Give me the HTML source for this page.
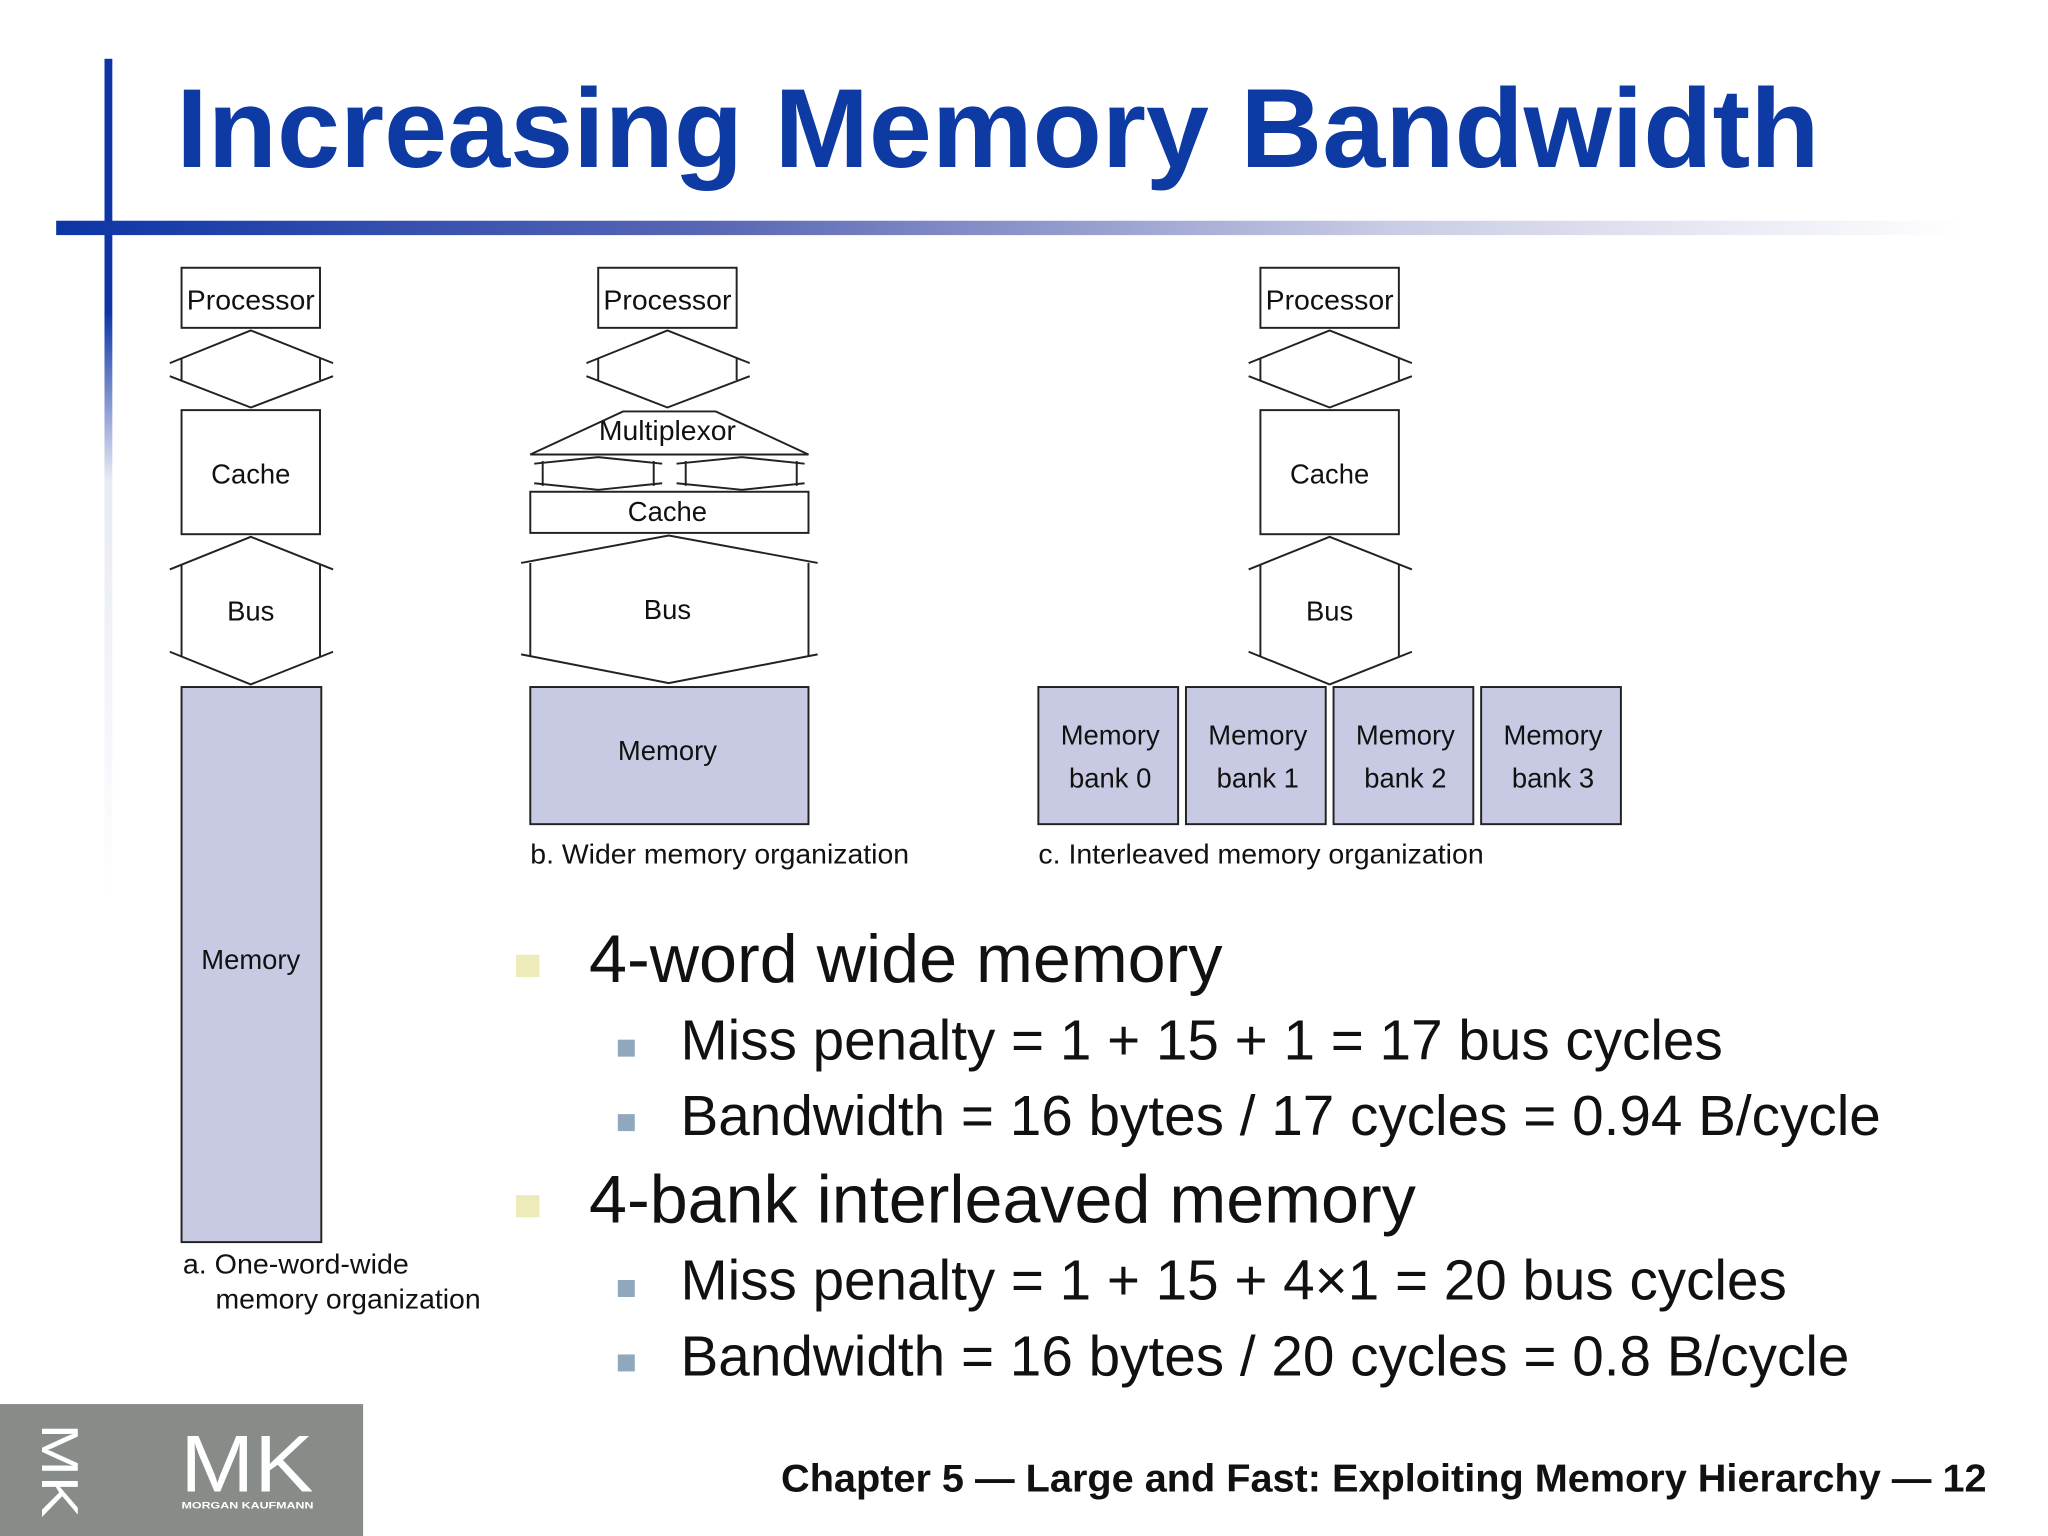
<!DOCTYPE html>
<html><head><meta charset="utf-8"><style>
html,body{margin:0;padding:0;background:#fff;}
svg{display:block;}
text{font-family:"Liberation Sans",Arial,sans-serif;}
</style></head><body>
<svg width="2048" height="1536" viewBox="0 0 1568 1176" xmlns="http://www.w3.org/2000/svg">
<defs>
<linearGradient id="hg" x1="0" x2="1" y1="0" y2="0">
<stop offset="0" stop-color="#0d35a6"/><stop offset="0.35" stop-color="#5a68b5"/><stop offset="0.7" stop-color="#c9cce4"/><stop offset="1" stop-color="#ffffff"/>
</linearGradient>
<linearGradient id="vg" x1="0" x2="0" y1="0" y2="1">
<stop offset="0" stop-color="#0d35a6"/><stop offset="0.3" stop-color="#0d35a6"/><stop offset="0.5" stop-color="#e8eaf4"/><stop offset="1" stop-color="#ffffff"/>
</linearGradient>
</defs>
<rect x="0" y="0" width="1568" height="1176" fill="#fff"/>
<rect x="80" y="45" width="6" height="645" fill="url(#vg)"/>
<rect x="43" y="169" width="1460" height="11" fill="url(#hg)"/>
<text x="135" y="128" font-size="86" font-weight="bold" fill="#0d3ba3" textLength="1258" lengthAdjust="spacingAndGlyphs">Increasing Memory Bandwidth</text>

<g fill="none" stroke="#222" stroke-width="1.5">
<rect x="139" y="205" width="106" height="46" fill="#fff"/>
<polyline points="130,278 192,253 255,278"/><polyline points="130,288 192,312 255,288"/>
<line x1="139" y1="274" x2="139" y2="291"/><line x1="245" y1="274" x2="245" y2="291"/>
<rect x="139" y="314" width="106" height="95"/>
<polyline points="130,436 192,411 255,436"/><polyline points="130,499 192,524 255,499"/>
<line x1="139" y1="432" x2="139" y2="503"/><line x1="245" y1="432" x2="245" y2="503"/>
<rect x="139" y="526" width="107" height="425" fill="#c8cae4"/>
<rect x="458" y="205" width="106" height="46"/>
<polyline points="449,278 511,253 574,278"/><polyline points="449,288 511,312 574,288"/>
<line x1="458" y1="274" x2="458" y2="291"/><line x1="564" y1="274" x2="564" y2="291"/>
<polygon points="477,315 548,315 619,348 406,348"/>
<polyline points="409,355 458,350 507,355"/><polyline points="409,370 458,375 507,370"/>
<line x1="415.5" y1="353" x2="415.5" y2="372"/><line x1="500.5" y1="353" x2="500.5" y2="372"/>
<polyline points="518,355 568,350 616,355"/><polyline points="518,370 568,375 616,370"/>
<line x1="525" y1="353" x2="525" y2="372"/><line x1="610" y1="353" x2="610" y2="372"/>
<rect x="406" y="376.5" width="213" height="31.5"/>
<polyline points="399,431 512,410 626,431"/><polyline points="399,501 512,523 626,501"/>
<line x1="406" y1="431" x2="406" y2="502"/><line x1="619" y1="431" x2="619" y2="502"/>
<rect x="406" y="526" width="213" height="105" fill="#c8cae4"/>
<rect x="965" y="205" width="106" height="46"/>
<polyline points="956,278 1018,253 1081,278"/><polyline points="956,288 1018,312 1081,288"/>
<line x1="965" y1="274" x2="965" y2="291"/><line x1="1071" y1="274" x2="1071" y2="291"/>
<rect x="965" y="314" width="106" height="95"/>
<polyline points="956,436 1018,411 1081,436"/><polyline points="956,499 1018,524 1081,499"/>
<line x1="965" y1="432" x2="965" y2="503"/><line x1="1071" y1="432" x2="1071" y2="503"/>
<rect x="795" y="526" width="107" height="105" fill="#c8cae4"/>
<rect x="908" y="526" width="107" height="105" fill="#c8cae4"/>
<rect x="1021" y="526" width="107" height="105" fill="#c8cae4"/>
<rect x="1134" y="526" width="107" height="105" fill="#c8cae4"/>
</g>

<g font-size="21" fill="#111" text-anchor="middle">
<text x="192" y="237" textLength="98" lengthAdjust="spacingAndGlyphs">Processor</text>
<text x="192" y="370">Cache</text>
<text x="192" y="475">Bus</text>
<text x="192" y="742">Memory</text>
<text x="511" y="237" textLength="98" lengthAdjust="spacingAndGlyphs">Processor</text>
<text x="511" y="337" textLength="105" lengthAdjust="spacingAndGlyphs">Multiplexor</text>
<text x="511" y="399">Cache</text>
<text x="511" y="474">Bus</text>
<text x="511" y="582">Memory</text>
<text x="1018" y="237" textLength="98" lengthAdjust="spacingAndGlyphs">Processor</text>
<text x="1018" y="370">Cache</text>
<text x="1018" y="475">Bus</text>
<text x="850" y="570">Memory</text><text x="850" y="603">bank 0</text>
<text x="963" y="570">Memory</text><text x="963" y="603">bank 1</text>
<text x="1076" y="570">Memory</text><text x="1076" y="603">bank 2</text>
<text x="1189" y="570">Memory</text><text x="1189" y="603">bank 3</text>
</g>
<g font-size="21" fill="#111">
<text x="140" y="975" textLength="173" lengthAdjust="spacingAndGlyphs">a. One-word-wide</text>
<text x="165" y="1002" textLength="203" lengthAdjust="spacingAndGlyphs">memory organization</text>
<text x="406" y="661" textLength="290" lengthAdjust="spacingAndGlyphs">b. Wider memory organization</text>
<text x="795" y="661" textLength="341" lengthAdjust="spacingAndGlyphs">c. Interleaved memory organization</text>
</g>

<rect x="395" y="731" width="18" height="17" fill="#ecebb9"/>
<rect x="395" y="915" width="18" height="17" fill="#ecebb9"/>
<rect x="473" y="796" width="13" height="13" fill="#8fa8bd"/>
<rect x="473" y="853" width="13" height="13" fill="#8fa8bd"/>
<rect x="473" y="980" width="13" height="13" fill="#8fa8bd"/>
<rect x="473" y="1037" width="13" height="13" fill="#8fa8bd"/>
<g fill="#111">
<text x="451" y="752" font-size="52" textLength="485" lengthAdjust="spacingAndGlyphs">4-word wide memory</text>
<text x="521" y="811" font-size="43" textLength="798" lengthAdjust="spacingAndGlyphs">Miss penalty = 1 + 15 + 1 = 17 bus cycles</text>
<text x="521" y="869" font-size="43" textLength="919" lengthAdjust="spacingAndGlyphs">Bandwidth = 16 bytes / 17 cycles = 0.94 B/cycle</text>
<text x="451" y="936" font-size="52" textLength="633" lengthAdjust="spacingAndGlyphs">4-bank interleaved memory</text>
<text x="521" y="995" font-size="43" textLength="847" lengthAdjust="spacingAndGlyphs">Miss penalty = 1 + 15 + 4×1 = 20 bus cycles</text>
<text x="521" y="1053" font-size="43" textLength="895" lengthAdjust="spacingAndGlyphs">Bandwidth = 16 bytes / 20 cycles = 0.8 B/cycle</text>
</g>

<rect x="0" y="1075" width="278" height="101" fill="#878c88"/>
<text x="138" y="1142" font-size="62" fill="#fff" textLength="102" lengthAdjust="spacingAndGlyphs">MK</text>
<text x="139" y="1155" font-size="7" font-weight="bold" fill="#fff" textLength="101" lengthAdjust="spacingAndGlyphs">MORGAN KAUFMANN</text>
<text transform="translate(32,1090) rotate(90)" font-size="40" fill="#fff" textLength="72" lengthAdjust="spacingAndGlyphs">MK</text>
<text x="598" y="1142" font-size="30" font-weight="bold" fill="#111" textLength="923" lengthAdjust="spacingAndGlyphs">Chapter 5 — Large and Fast: Exploiting Memory Hierarchy — 12</text>
</svg>
</body></html>
